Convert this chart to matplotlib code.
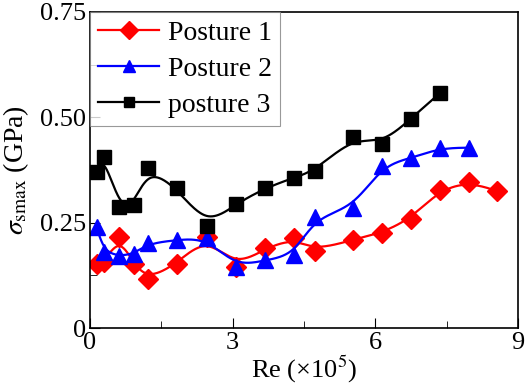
import matplotlib
matplotlib.use('Agg')
import matplotlib.pyplot as plt
import numpy as np

plt.rcParams['font.family'] = ['Liberation Serif', 'DejaVu Serif']
plt.rcParams['mathtext.fontset'] = 'stix'

re_x = [0.14, 0.30, 0.62, 0.92, 1.23, 1.83, 2.45, 3.06, 3.68, 4.29, 4.73,
        5.53, 6.13, 6.74, 7.35, 7.97, 8.56]

posture1 = [0.153, 0.157, 0.215, 0.152, 0.116, 0.153, 0.217, 0.146, 0.189,
            0.213, 0.184, 0.210, 0.226, 0.259, 0.328, 0.347, 0.325]
posture2 = [0.240, 0.181, 0.171, 0.176, 0.201, 0.209, 0.214, 0.146, 0.161,
            0.173, 0.264, 0.284, 0.385, 0.403, 0.427, 0.428]
posture3 = [0.370, 0.407, 0.288, 0.292, 0.379, 0.332, 0.243, 0.294, 0.332,
            0.357, 0.373, 0.453, 0.437, 0.496, 0.557]


def bspline(xs, ys, n=30):
    """Uniform cubic B-spline with the data points as control points."""
    px = np.r_[xs[0], xs[0], xs, xs[-1], xs[-1]]
    py = np.r_[ys[0], ys[0], ys, ys[-1], ys[-1]]
    t = np.linspace(0, 1, n)
    b0 = (1 - t) ** 3 / 6
    b1 = (3 * t ** 3 - 6 * t ** 2 + 4) / 6
    b2 = (-3 * t ** 3 + 3 * t ** 2 + 3 * t + 1) / 6
    b3 = t ** 3 / 6
    cx, cy = [], []
    for i in range(len(px) - 3):
        cx.append(b0 * px[i] + b1 * px[i + 1] + b2 * px[i + 2] + b3 * px[i + 3])
        cy.append(b0 * py[i] + b1 * py[i + 1] + b2 * py[i + 2] + b3 * py[i + 3])
    return np.concatenate(cx), np.concatenate(cy)


fig = plt.figure(figsize=(5.26, 3.86), dpi=100)
ax = fig.add_axes([0.171, 0.150, 0.814, 0.819])

series = [
    (posture1, 'red', 'D', 10, 9, 'Posture 1'),
    (posture2, 'blue', '^', 12, 9, 'Posture 2'),
    (posture3, 'black', 's', 10, 7, 'posture 3'),
]
handles = []
for ys, c, m, ms, lms, lab in series:
    xs = np.array(re_x[:len(ys)])
    sx, sy = bspline(xs, np.array(ys))
    ax.plot(sx, sy, color=c, lw=1.6)
    ax.plot(xs, ys, ls='none', marker=m, ms=ms, color=c)
    h, = ax.plot([], [], color=c, lw=1.6, marker=m, ms=lms, label=lab)
    handles.append(h)

ax.set_xlim(0, 9)
ax.set_ylim(0, 0.75)
ax.set_xticks([0, 3, 6, 9])
ax.set_xticks([1.5, 4.5, 7.5], minor=True)
ax.set_yticks([0, 0.25, 0.5, 0.75])
ax.set_yticklabels(['0', '0.25', '0.50', '0.75'])
ax.set_yticks([0.125, 0.375, 0.625], minor=True)
ax.tick_params(which='both', direction='in', labelsize=19, pad=3)
ax.tick_params(which='major', length=7)
ax.tick_params(which='minor', length=5)
for s in ax.spines.values():
    s.set_linewidth(1.2)

ax.set_xlabel('Re (×10$^5$)', fontsize=19, labelpad=0)
ax.set_ylabel(r'$\sigma_{\rm smax}$ (GPa)', fontsize=20, labelpad=6)

leg = ax.legend(handles=handles, loc='upper left', fontsize=20,
                borderaxespad=0, handlelength=2.2, handletextpad=0.3,
                labelspacing=0.38, fancybox=False, edgecolor='gray',
                borderpad=0.3)
leg.get_frame().set_linewidth(0.8)

fig.savefig('out.png', dpi=100)
